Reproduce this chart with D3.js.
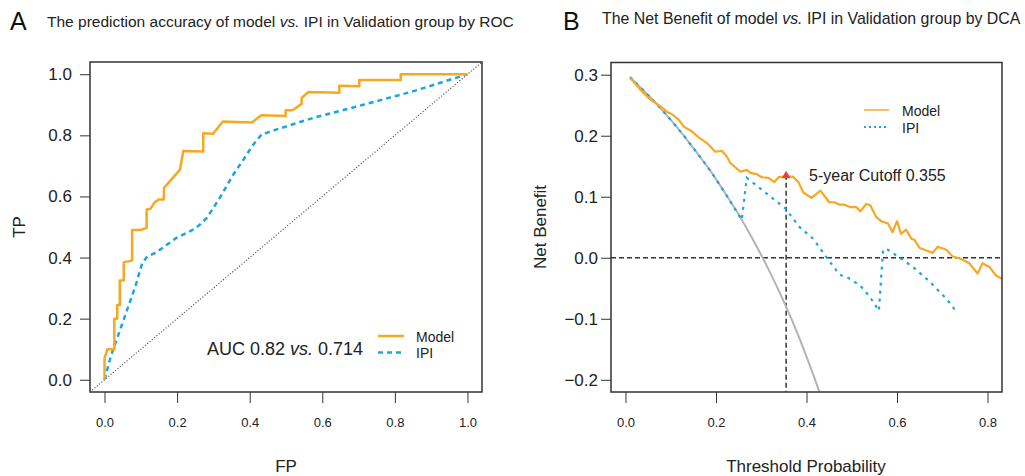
<!DOCTYPE html>
<html>
<head>
<meta charset="utf-8">
<script src="https://cdn.jsdelivr.net/npm/d3@7"></script>
<style>
  body { margin: 0; background: #fff; }
  svg { font-family: "Liberation Sans", Arial, sans-serif; }
</style>
</head>
<body>
<svg id="chart" width="1025" height="476"></svg>
<script>
// ROC points (FP, TP)
const rocModel = [[0,0],[0,0.07],[0.008,0.10],[0.027,0.10],[0.027,0.20],[0.035,0.20],[0.035,0.245],[0.042,0.245],
  [0.042,0.325],[0.053,0.325],[0.053,0.385],[0.076,0.39],[0.076,0.49],[0.099,0.49],[0.116,0.497],[0.116,0.557],
  [0.127,0.56],[0.137,0.579],[0.149,0.59],[0.163,0.59],[0.164,0.628],[0.208,0.688],[0.217,0.749],[0.272,0.747],
  [0.272,0.807],[0.299,0.805],[0.326,0.845],[0.406,0.842],[0.432,0.866],[0.499,0.863],[0.499,0.882],[0.518,0.882],
  [0.543,0.903],[0.543,0.922],[0.562,0.942],[0.647,0.939],[0.647,0.962],[0.702,0.961],[0.702,0.981],[0.816,0.981],
  [0.816,1.0],[1,1]];
const rocIPI = [[0,0],[0.017,0.076],[0.085,0.306],[0.104,0.382],[0.118,0.404],[0.14,0.415],[0.199,0.465],[0.245,0.492],
  [0.263,0.508],[0.282,0.53],[0.318,0.596],[0.355,0.672],[0.383,0.721],[0.41,0.77],[0.433,0.803],[0.456,0.812],
  [0.484,0.823],[0.575,0.857],[0.713,0.9],[0.85,0.944],[1,1]];
const aucText = ["AUC 0.82 ", "vs.", " 0.714"];

// DCA points (threshold, net benefit)
const dcaModel = [[0.01,0.295],[0.03,0.278],[0.052,0.261],[0.077,0.248],[0.092,0.239],[0.103,0.235],[0.118,0.226],
  [0.129,0.215],[0.147,0.207],[0.162,0.197],[0.18,0.188],[0.198,0.174],[0.213,0.175],[0.224,0.166],[0.232,0.155],
  [0.254,0.141],[0.268,0.144],[0.276,0.139],[0.29,0.137],[0.301,0.132],[0.316,0.131],[0.329,0.124],[0.338,0.132],
  [0.353,0.133],[0.37,0.133],[0.382,0.124],[0.393,0.107],[0.411,0.098],[0.431,0.110],[0.45,0.091],[0.462,0.091],
  [0.473,0.087],[0.484,0.087],[0.496,0.083],[0.51,0.083],[0.519,0.076],[0.532,0.088],[0.541,0.086],[0.554,0.067],
  [0.565,0.06],[0.58,0.056],[0.59,0.042],[0.6,0.06],[0.609,0.039],[0.62,0.046],[0.632,0.031],[0.639,0.029],
  [0.65,0.016],[0.665,0.012],[0.679,0.008],[0.69,0.018],[0.709,0.013],[0.723,0.002],[0.738,-0.001],[0.749,-0.005],
  [0.76,-0.009],[0.778,-0.026],[0.789,-0.009],[0.804,-0.015],[0.819,-0.029],[0.84,-0.038]];
const dcaIPI = [[0.01,0.296],[0.04,0.274],[0.07,0.251],[0.10,0.226],[0.13,0.199],[0.16,0.170],[0.19,0.140],
  [0.22,0.106],[0.257,0.062],[0.268,0.131],[0.353,0.081],[0.385,0.05],[0.415,0.031],[0.444,0.001],[0.473,-0.028],
  [0.488,-0.031],[0.518,-0.045],[0.54,-0.064],[0.56,-0.087],[0.569,0.012],[0.576,0.015],[0.598,0.004],
  [0.635,-0.015],[0.672,-0.039],[0.709,-0.067],[0.731,-0.088]];
const dcaAll = [[0.01,0.296],[0.04,0.274],[0.07,0.251],[0.10,0.226],[0.13,0.199],[0.16,0.170],[0.19,0.140],
  [0.22,0.106],[0.25,0.071],[0.28,0.032],[0.31,-0.010],[0.34,-0.056],[0.37,-0.106],[0.40,-0.162],[0.43,-0.223],
  [0.46,-0.291]];
const cutoff = [0.355, 0.136];
const cutoffLabel = "5-year Cutoff 0.355";

const ticksA = [0, 0.2, 0.4, 0.6, 0.8, 1.0];
const ticksBx = [0, 0.2, 0.4, 0.6, 0.8];
const ticksBy = [-0.2, -0.1, 0, 0.1, 0.2, 0.3];
const legendNames = ["Model", "IPI"];

const ORANGE = "#f7a823", BLUE = "#1ba6df", AXIS = "#333";
const svg = d3.select("#chart");
const fmt = d => d3.format(".1f")(d).replace("-", "\u2212");

const defs = svg.append("defs");
function clip(id, x0, y0, x1, y1) {
  defs.append("clipPath").attr("id", id).append("rect")
    .attr("x", x0).attr("y", y0).attr("width", x1 - x0).attr("height", y1 - y0);
}

// ---------- Panel A ----------
const xA = d3.scaleLinear().domain([-0.04, 1.04]).range([90, 482]);
const yA = d3.scaleLinear().domain([-0.04, 1.04]).range([392, 62]);
clip("clipA", 90, 62, 482, 392);
const line = (x, y) => d3.line().x(d => x(d[0])).y(d => y(d[1]));

const gA = svg.append("g");
const plotA = gA.append("g").attr("clip-path", "url(#clipA)");
plotA.append("line")
  .attr("x1", xA(-0.04)).attr("y1", yA(-0.04)).attr("x2", xA(1.04)).attr("y2", yA(1.04))
  .attr("stroke", "#444").attr("stroke-width", 1.2).attr("stroke-dasharray", "1,2");
plotA.append("path").datum(rocIPI).attr("d", line(xA, yA))
  .attr("fill", "none").attr("stroke", BLUE).attr("stroke-width", 2.5).attr("stroke-dasharray", "5,4");
plotA.append("path").datum(rocModel).attr("d", line(xA, yA))
  .attr("fill", "none").attr("stroke", ORANGE).attr("stroke-width", 2.5).attr("stroke-linejoin", "round");

gA.append("g").attr("transform", "translate(0,392)")
  .call(d3.axisBottom(xA).tickValues(ticksA).tickFormat(d3.format(".1f")).tickSize(11).tickPadding(15))
  .call(g => g.select(".domain").remove())
  .call(g => g.selectAll("line").attr("stroke", AXIS))
  .call(g => g.selectAll("text").attr("font-size", 13).attr("fill", "#222").attr("font-family", null));
gA.append("g").attr("transform", "translate(90,0)")
  .call(d3.axisLeft(yA).tickValues(ticksA).tickFormat(d3.format(".1f")).tickSize(10).tickPadding(8))
  .call(g => g.select(".domain").remove())
  .call(g => g.selectAll("line").attr("stroke", AXIS))
  .call(g => g.selectAll("text").attr("font-size", 17).attr("fill", "#222").attr("font-family", null));
gA.append("rect").attr("x", 90).attr("y", 62).attr("width", 392).attr("height", 330)
  .attr("fill", "none").attr("stroke", AXIS).attr("stroke-width", 1.5);

gA.append("text").attr("x", 286).attr("y", 472).attr("text-anchor", "middle")
  .attr("font-size", 17).attr("fill", "#222").text("FP");
gA.append("text").attr("transform", "translate(25,227) rotate(-90)").attr("text-anchor", "middle")
  .attr("font-size", 17).attr("fill", "#222").text("TP");

const auc = gA.append("text").attr("x", 207).attr("y", 355).attr("font-size", 18).attr("fill", "#222");
auc.selectAll("tspan").data(aucText).join("tspan")
  .attr("font-style", (d, i) => i === 1 ? "italic" : null).text(d => d);

const legA = gA.append("g");
legendNames.forEach((name, i) => {
  const y = 336 + i * 16.5;
  legA.append("line").attr("x1", 378).attr("x2", 404).attr("y1", y).attr("y2", y)
    .attr("stroke", i === 0 ? ORANGE : BLUE).attr("stroke-width", 2.5)
    .attr("stroke-dasharray", i === 0 ? null : "5,4");
  legA.append("text").attr("x", 416).attr("y", y + 5.5).attr("font-size", 14).attr("fill", "#222").text(name);
});

// ---------- Panel B ----------
const xB = d3.scaleLinear().domain([-0.032, 0.832]).range([611, 1002]);
const yB = d3.scaleLinear().domain([-0.22, 0.32]).range([392, 62.5]);
clip("clipB", 611, 62.5, 1002, 392);

const gB = svg.append("g");
const plotB = gB.append("g").attr("clip-path", "url(#clipB)");
plotB.append("line").attr("x1", xB(-0.032)).attr("x2", xB(0.832)).attr("y1", yB(0)).attr("y2", yB(0))
  .attr("stroke", AXIS).attr("stroke-width", 1.5).attr("stroke-dasharray", "5,3");
plotB.append("line").attr("x1", xB(cutoff[0])).attr("x2", xB(cutoff[0]))
  .attr("y1", yB(cutoff[1])).attr("y2", yB(-0.22))
  .attr("stroke", AXIS).attr("stroke-width", 1.5).attr("stroke-dasharray", "5,3");
plotB.append("path").datum(dcaAll).attr("d", line(xB, yB).curve(d3.curveMonotoneX))
  .attr("fill", "none").attr("stroke", "#b3b3b3").attr("stroke-width", 2);
plotB.append("path").datum(dcaIPI).attr("d", line(xB, yB))
  .attr("fill", "none").attr("stroke", BLUE).attr("stroke-width", 2.2).attr("stroke-dasharray", "3,5");
plotB.append("path").datum(dcaModel).attr("d", line(xB, yB))
  .attr("fill", "none").attr("stroke", ORANGE).attr("stroke-width", 2.2).attr("stroke-linejoin", "round");

gB.append("path").attr("d", d3.symbol(d3.symbolTriangle, 34)())
  .attr("transform", `translate(${xB(cutoff[0])},${yB(cutoff[1]) + 1})`).attr("fill", "#e8452f");
gB.append("text").attr("x", 809).attr("y", 181).attr("font-size", 16).attr("fill", "#222").text(cutoffLabel);

gB.append("g").attr("transform", "translate(0,392)")
  .call(d3.axisBottom(xB).tickValues(ticksBx).tickFormat(d3.format(".1f")).tickSize(11).tickPadding(15))
  .call(g => g.select(".domain").remove())
  .call(g => g.selectAll("line").attr("stroke", AXIS))
  .call(g => g.selectAll("text").attr("font-size", 13).attr("fill", "#222").attr("font-family", null));
gB.append("g").attr("transform", "translate(611,0)")
  .call(d3.axisLeft(yB).tickValues(ticksBy).tickFormat(fmt).tickSize(10).tickPadding(3))
  .call(g => g.select(".domain").remove())
  .call(g => g.selectAll("line").attr("stroke", AXIS))
  .call(g => g.selectAll("text").attr("font-size", 17).attr("fill", "#222").attr("font-family", null));
gB.append("rect").attr("x", 611).attr("y", 62.5).attr("width", 391).attr("height", 329.5)
  .attr("fill", "none").attr("stroke", AXIS).attr("stroke-width", 1.5);

gB.append("text").attr("x", 806).attr("y", 472).attr("text-anchor", "middle")
  .attr("font-size", 17).attr("fill", "#222").text("Threshold Probability");
gB.append("text").attr("transform", "translate(546,227) rotate(-90)").attr("text-anchor", "middle")
  .attr("font-size", 17).attr("fill", "#222").text("Net Benefit");

const legB = gB.append("g");
legendNames.forEach((name, i) => {
  const y = 110 + i * 17;
  legB.append("line").attr("x1", 864).attr("x2", 889).attr("y1", y).attr("y2", y)
    .attr("stroke", i === 0 ? "#f6c063" : BLUE).attr("stroke-width", 2)
    .attr("stroke-dasharray", i === 0 ? null : "2,3");
  legB.append("text").attr("x", 902).attr("y", y + 5.5).attr("font-size", 14).attr("fill", "#222").text(name);
});

// ---------- Titles ----------
function title(letter, lx, text, tx, base, size) {
  svg.append("text").attr("x", lx).attr("y", 30).attr("font-size", 25).attr("fill", "#111").text(letter);
  const t = svg.append("text").attr("x", tx).attr("y", base).attr("font-size", size).attr("fill", "#222");
  const parts = text.split("vs.");
  t.append("tspan").text(parts[0]);
  t.append("tspan").attr("font-style", "italic").text("vs.");
  t.append("tspan").text(parts[1]);
}
title("A", 10, "The prediction accuracy of model vs. IPI in Validation group by ROC", 47, 26.5, 15.5);
title("B", 563, "The Net Benefit of model vs. IPI in Validation group by DCA", 602, 24, 15.9);
</script>
</body>
</html>
